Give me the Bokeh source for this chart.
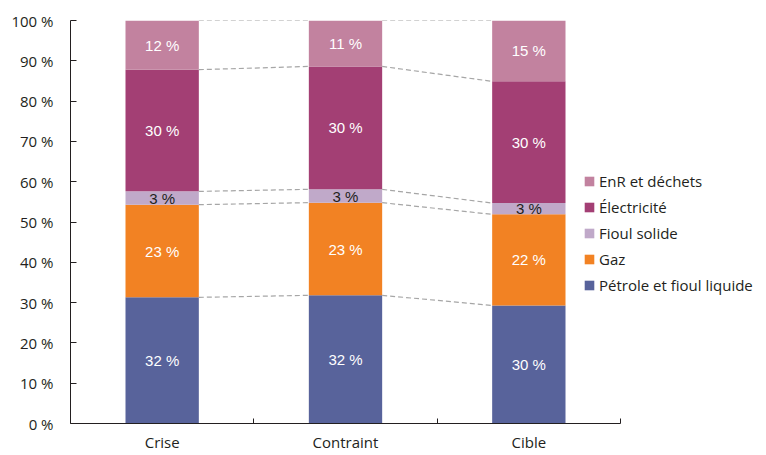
import numpy as np
from bokeh.plotting import figure
from bokeh.models import (ColumnDataSource, FixedTicker, PrintfTickFormatter, Legend,
                          LegendItem, Range1d)
from bokeh.core.properties import value
from bokeh.embed import file_html
from bokeh.resources import INLINE

categories = ["Crise", "Contraint", "Cible"]
series = ["Pétrole et fioul liquide", "Gaz", "Fioul solide", "Électricité", "EnR et déchets"]
petrole = [31.3, 31.8, 29.3]
gaz = [23.0, 23.0, 22.6]
fioul_solide = [3.3, 3.3, 2.8]
electricite = [30.2, 30.5, 30.2]
enr = [12.2, 11.4, 15.1]
label_petrole = ["32 %", "32 %", "30 %"]
label_gaz = ["23 %", "23 %", "22 %"]
label_fioul = ["3 %", "3 %", "3 %"]
label_elec = ["30 %", "30 %", "30 %"]
label_enr = ["12 %", "11 %", "15 %"]
y_ticks = [0, 10, 20, 30, 40, 50, 60, 70, 80, 90, 100]

colors = ["#58639b", "#f28223", "#c0a9c9", "#a33f74", "#c2829f"]
label_colors = ["white", "white", "#231f20", "white", "white"]
values = [petrole, gaz, fioul_solide, electricite, enr]
labels = [label_petrole, label_gaz, label_fioul, label_elec, label_enr]

n = len(categories)
bar_w = 0.4
xs = np.arange(n) + 0.5
frame_w = 696
x_end = n * frame_w / 550.0

p = figure(width=766, height=455, output_backend="svg", toolbar_location=None,
           x_range=Range1d(0, x_end), y_range=Range1d(0, 100),
           min_border_left=70, min_border_right=0, min_border_top=20, min_border_bottom=32)
p.grid.visible = False
p.outline_line_color = None

bottom = np.zeros(n)
renderers = []
tops_all = []
for vals, col, labs, lcol in zip(values, colors, labels, label_colors):
    vals = np.array(vals)
    top = bottom + vals
    src = ColumnDataSource(dict(x=xs, bottom=bottom, top=top, mid=(bottom + top) / 2, lab=labs))
    r = p.vbar(x="x", bottom="bottom", top="top", width=bar_w, source=src,
               fill_color=col, line_color=None)
    renderers.append(r)
    p.text(x="x", y="mid", text="lab", source=src, text_color=lcol,
           text_font=value("Liberation Sans"), text_font_size="15px",
           text_align="center", text_baseline="middle")
    tops_all.append(top)
    bottom = top

# dashed connectors between bars
x0s, x1s, y0s, y1s = [], [], [], []
for top in tops_all:
    for i in range(n - 1):
        x0s.append(xs[i] + bar_w / 2)
        x1s.append(xs[i + 1] - bar_w / 2)
        y0s.append(top[i])
        y1s.append(top[i + 1])
p.segment(x0=x0s, y0=y0s, x1=x1s, y1=y1s, line_color="#a6a6a6", line_width=1.2,
          line_dash="5 3")

# axes
ax = p.xaxis[0]
ax.bounds = (0, n)
ax.ticker = FixedTicker(ticks=list(xs), minor_ticks=list(range(1, n + 1)))
ax.major_label_overrides = {float(x): c for x, c in zip(xs, categories)}
ax.major_tick_in = 0
ax.major_tick_out = 0
ax.minor_tick_in = 5
ax.minor_tick_out = 0
ax.minor_tick_line_color = "#231f20"
ax.axis_line_color = "#231f20"
ax.major_label_text_font = "Open Sans"
ax.major_label_text_font_size = "15px"
ax.major_label_text_color = "#231f20"
ax.major_label_standoff = 8

ay = p.yaxis[0]
ay.ticker = FixedTicker(ticks=y_ticks, minor_ticks=[])
ay.formatter = PrintfTickFormatter(format="%d %%")
ay.major_tick_in = 6
ay.major_tick_out = 0
ay.major_tick_line_color = "#231f20"
ay.minor_tick_line_color = None
ay.axis_line_color = "#231f20"
ay.major_label_text_font = "Open Sans"
ay.major_label_text_font_size = "15px"
ay.major_label_text_color = "#231f20"
ay.major_label_standoff = 17

items = [LegendItem(label=s, renderers=[r]) for s, r in zip(series, renderers)][::-1]
legend = Legend(items=items, location=(513, 128), orientation="vertical",
                glyph_width=12, glyph_height=12, label_standoff=4, spacing=6,
                label_height=20, padding=0, margin=0, border_line_color=None,
                background_fill_alpha=0,
                label_text_font="Open Sans", label_text_font_size="15px",
                label_text_color="#231f20")
p.add_layout(legend, "center")

open("out.html", "w").write(file_html(p, INLINE))
